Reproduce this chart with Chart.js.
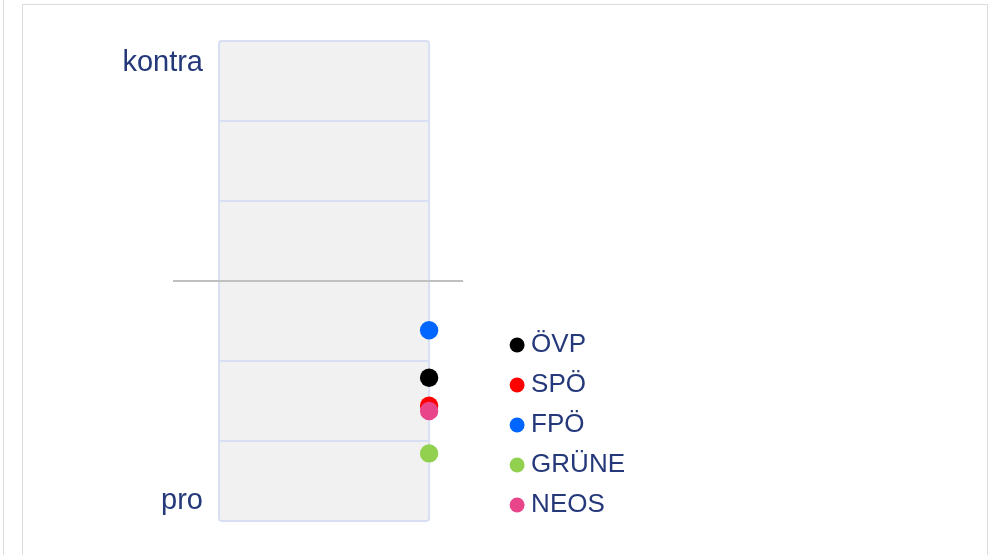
<!DOCTYPE html>
<html><head><meta charset="utf-8">
<script src="https://cdn.jsdelivr.net/npm/chart.js@4.4.1/dist/chart.umd.min.js"></script>
<style>
html,body{margin:0;padding:0;background:#fff;width:995px;height:555px;overflow:hidden;}
#lineL{position:absolute;left:3px;top:0;width:0;height:560px;border-left:1px solid #dcdcdc;}
#frame{position:absolute;left:22px;top:4px;width:964px;height:600px;border:1px solid #dcdcdc;}
#wrap{position:absolute;left:0;top:0;width:995px;height:555px;}
</style></head><body>
<div id="lineL"></div><div id="frame"></div>
<div id="wrap"><canvas id="c" width="995" height="555"></canvas></div>
<script>
const parties = ['ÖVP','SPÖ','FPÖ','GRÜNE','NEOS'];
const positions = [-1.21, -1.56, -0.615, -2.155, -1.625];
const partyColors = ['#000000','#ff0000','#0066ff','#92d050','#e8458b'];
const axisLabels = ['kontra','pro'];
const axisLabelValues = [2.725, -2.75];
const gridValues = [-2, -1, 0, 1, 2];
const yMin = -3, yMax = 3;

const textColor = '#24387a';
const gridColor = '#d9dff2';

const plotFrame = {
  id: 'plotFrame',
  beforeDraw(chart) {
    const {ctx, chartArea: a} = chart;
    ctx.save();
    ctx.fillStyle = '#f1f1f1';
    ctx.beginPath();
    ctx.roundRect(a.left, a.top, a.width, a.height, 3);
    ctx.fill();
    ctx.restore();
  },
  beforeDatasetsDraw(chart) {
    const {ctx, chartArea: a} = chart;
    const y = chart.scales.y;
    ctx.save();
    ctx.strokeStyle = gridColor;
    ctx.lineWidth = 2;
    ctx.beginPath();
    ctx.roundRect(a.left, a.top, a.width, a.height, 3);
    ctx.stroke();
    const y0 = Math.round(y.getPixelForValue(0));
    ctx.strokeStyle = '#c0c0c0';
    ctx.lineWidth = 2;
    ctx.beginPath();
    ctx.moveTo(a.left - 46, y0);
    ctx.lineTo(a.right + 34, y0);
    ctx.stroke();
    ctx.restore();
  }
};

const datasets = parties.map((p, i) => ({
  label: p,
  data: [{x: 1, y: positions[i]}],
  backgroundColor: partyColors[i],
  borderColor: partyColors[i],
  borderWidth: 0,
  pointRadius: 9.2,
  pointHoverRadius: 9.2,
  clip: false,
  order: p === 'NEOS' ? 0 : 1
}));

new Chart(document.getElementById('c'), {
  type: 'scatter',
  data: { datasets },
  plugins: [plotFrame],
  options: {
    responsive: false,
    animation: false,
    events: [],
    layout: { padding: { top: 41, left: 0, right: 360, bottom: 23 } },
    scales: {
      x: {
        type: 'linear', min: 0, max: 1,
        display: true,
        grid: { display: false },
        border: { display: false },
        ticks: { display: false },
        afterFit(s) { s.height = 11; }
      },
      y: {
        type: 'linear', min: yMin, max: yMax,
        position: 'left',
        border: { display: false },
        grid: {
          drawTicks: false,
          lineWidth: 2,
          color: (ctx) => (ctx.tick && gridValues.includes(ctx.tick.value)) ? gridColor : 'rgba(0,0,0,0)'
        },
        afterBuildTicks(s) {
          s.ticks = [yMin, ...gridValues, yMax, ...axisLabelValues].sort((a, b) => a - b).map(v => ({value: v}));
        },
        ticks: {
          padding: 16,
          color: textColor,
          font: { family: '"Liberation Sans", Arial, sans-serif', size: 29 },
          callback(v) {
            const k = axisLabelValues.indexOf(v);
            return k >= 0 ? axisLabels[k] : '';
          }
        },
        afterFit(s) { s.width = 219; }
      },
      y2: {
        type: 'linear', min: yMin, max: yMax,
        position: 'right',
        display: true,
        grid: { display: false },
        border: { display: false },
        ticks: { display: false },
        afterFit(s) { s.width = 73; }
      }
    },
    plugins: {
      tooltip: { enabled: false },
      legend: {
        position: 'right',
        align: 'end',
        maxWidth: 300,
        labels: {
          usePointStyle: true,
          pointStyle: 'circle',
          boxWidth: 2,
          boxHeight: 10.6,
          padding: 14,
          color: textColor,
          font: { family: '"Liberation Sans", Arial, sans-serif', size: 26 },
          sort: (a, b) => a.datasetIndex - b.datasetIndex
        }
      }
    }
  }
});
</script>
</body></html>
